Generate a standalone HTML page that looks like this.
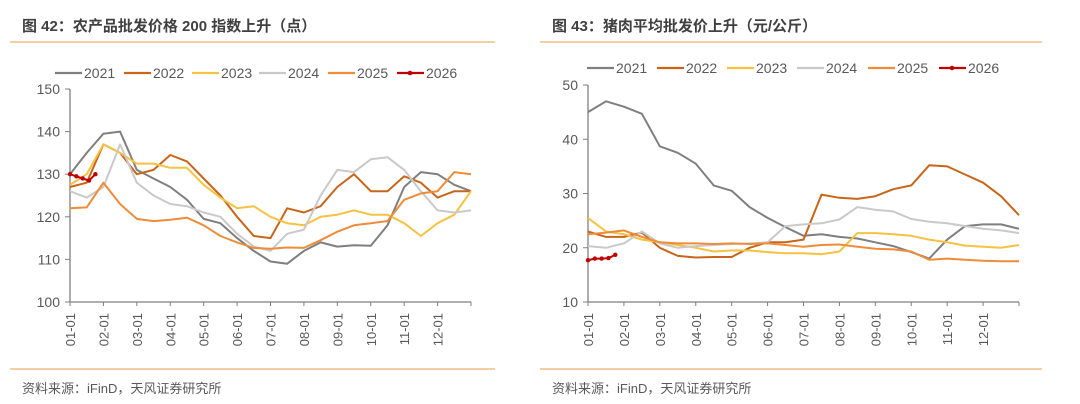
<!DOCTYPE html>
<html><head><meta charset="utf-8">
<style>
body{margin:0;background:#fff;width:1080px;height:404px;overflow:hidden;font-family:"Liberation Sans","Noto Sans CJK SC",sans-serif;}
svg{display:block}
</style></head>
<body>
<svg id="s" width="1080" height="404" xmlns="http://www.w3.org/2000/svg">
<text x="22" y="31" font-size="15" font-weight="bold" fill="#404040" font-family="Liberation Sans, Noto Sans CJK SC, sans-serif">图 42：农产品批发价格 200 指数上升（点）</text>
<line x1="10" y1="42" x2="495" y2="42" stroke="#f0b070" stroke-width="1.2"/>
<text x="552" y="31" font-size="15" font-weight="bold" fill="#404040" font-family="Liberation Sans, Noto Sans CJK SC, sans-serif">图 43：猪肉平均批发价上升（元/公斤）</text>
<line x1="540" y1="42" x2="1042" y2="42" stroke="#f0b070" stroke-width="1.2"/>
<line x1="10" y1="369" x2="495" y2="369" stroke="#f0b070" stroke-width="1.2"/>
<line x1="540" y1="369" x2="1042" y2="369" stroke="#f0b070" stroke-width="1.2"/>
<text x="22" y="393" font-size="13" fill="#595959">资料来源：iFinD，天风证券研究所</text>
<text x="552" y="393" font-size="13" fill="#595959">资料来源：iFinD，天风证券研究所</text>
</svg>
<script>
const years = ["2021","2022","2023","2024","2025","2026"];
const monthLabels = ["01-01","02-01","03-01","04-01","05-01","06-01","07-01","08-01","09-01","10-01","11-01","12-01"];
const leftTicks = [100,110,120,130,140,150];
const rightTicks = [10,20,30,40,50];
const L2021 = [130,135,139.5,140,131,129,127,124,119.5,118.5,115,112,109.5,109,112,114,113,113.3,113.2,118,127,130.5,130,127.5,126];
const L2022 = [127,128,137,135,130,131,134.5,133,129,125,120,115.5,115,122,121,122.5,127,130,126,126,129.5,128,124.5,126,126];
const L2023 = [127.5,130,137,135,132.5,132.5,131.5,131.5,127.5,124.5,122,122.5,120,118.5,118,120,120.5,121.5,120.5,120.5,118.5,115.5,118.5,120.5,126];
const L2024 = [126,124.5,127,137,128,125,123,122.5,121,120,116,113,112,116,117,125,131,130.5,133.5,134,131,126,121.5,121,121.5];
const L2025 = [122,122.2,128,123,119.5,119,119.3,119.8,118,115.5,114,112.7,112.5,112.8,112.7,114.5,116.5,118,118.5,119,124,125.5,126,130.5,130];
const L2026 = [130,129.5,129,128.5,130];
const R2021 = [45,47,46,44.7,38.7,37.5,35.5,31.5,30.5,27.5,25.5,23.8,22.2,22.5,22,21.7,21,20.3,19.2,18,21.5,24,24.3,24.3,23.5];
const R2022 = [23,22,22,22.8,20,18.5,18.2,18.3,18.3,20,21,21,21.5,29.8,29.2,29,29.5,30.8,31.5,35.2,35,33.5,32,29.5,26];
const R2023 = [25.5,23,22.5,21.5,21,20.5,20,19.3,19.5,19.5,19.2,19,19,18.8,19.3,22.7,22.7,22.5,22.2,21.5,21,20.4,20.2,20,20.5];
const R2024 = [20.3,20,20.8,23,20.8,20,20.3,20.5,20.7,20.8,21,24,24.3,24.5,25.2,27.5,27,26.7,25.3,24.8,24.5,24,23.5,23.2,22.7];
const R2025 = [22.5,22.8,23.2,22,21,20.8,20.8,20.7,20.8,20.7,20.8,20.5,20.2,20.5,20.6,20.2,19.8,19.7,19.3,17.8,18,17.8,17.6,17.5,17.5];
const R2026 = [17.7,18,18,18.1,18.7];
const colors = ["#7f7f7f","#c8651b","#f5c242","#c9c9c9","#ee8c3a","#c00000"];

const NS="http://www.w3.org/2000/svg";
const svg=document.getElementById('s');
function mk(tag,attrs,parent){const e=document.createElementNS(NS,tag);for(const k in attrs)e.setAttribute(k,attrs[k]);(parent||svg).appendChild(e);return e;}

function chart(cfg){
  const g=mk('g',{});
  
  
  const xS=t=>cfg.x0+t*(cfg.x1-cfg.x0)/12;
  const yS=v=>cfg.yb-(v-cfg.vmin)*(cfg.yb-cfg.yt)/(cfg.vmax-cfg.vmin);
  // y axis
  const ya=mk('line',{x1:cfg.x0,y1:cfg.yt,x2:cfg.x0,y2:cfg.yb,stroke:'#7f7f7f','stroke-width':1.3},g);
  
  
  cfg.ticks.forEach(v=>{
    const t=mk('line',{x1:cfg.x0-5,y1:yS(v),x2:cfg.x0,y2:yS(v),stroke:'#7f7f7f'},g);
    
    
    const lb=mk('text',{x:cfg.x0-10,y:yS(v)+5,'text-anchor':'end','font-size':14,fill:'#595959'},g);
    lb.textContent=v;
    
    
  });
  const xa=mk('line',{x1:cfg.x0,y1:cfg.yb,x2:cfg.x1,y2:cfg.yb,stroke:'#7f7f7f','stroke-width':1.3},g);
  
  
  for(let i=0;i<=12;i++){
    const t=mk('line',{x1:xS(i),y1:cfg.yb,x2:xS(i),y2:cfg.yb+4,stroke:'#7f7f7f'},g);
    
    
  }
  monthLabels.forEach((m,i)=>{
    const x=xS(i)+5,y=cfg.yb+11;
    const lb=mk('text',{x:x,y:y,'text-anchor':'end','font-size':13,fill:'#595959',transform:`rotate(-90 ${x} ${y})`},g);
    lb.textContent=m;
    
    
  });
  cfg.series.forEach((d,si)=>{
    const step=si===5?0.19:0.5;
    const pts=d.map((v,i)=>xS(i*step).toFixed(1)+','+yS(v).toFixed(1)).join(' ');
    const p=mk('polyline',{points:pts,fill:'none',stroke:colors[si],'stroke-width':2,'stroke-linejoin':'round'},g);
    
    
    if(si===5){d.forEach((v,i)=>{const c=mk('circle',{cx:xS(i*step),cy:yS(v),r:2.2,fill:colors[5]},g);
      
      });}
  });
  // legend
  years.forEach((y,i)=>{
    const lx=cfg.legX[i];
    const lg=mk('g',{},g);
    
    
    mk('line',{x1:lx,y1:cfg.legY,x2:lx+27,y2:cfg.legY,stroke:colors[i],'stroke-width':2.2},lg);
    if(i===5)mk('circle',{cx:lx+13,cy:cfg.legY,r:2.3,fill:colors[5]},lg);
    const t=mk('text',{x:lx+29,y:cfg.legY+5,'font-size':14,fill:'#595959'},lg);
    t.textContent=y;
  });
}
chart({name:'left-chart',x0:70,x1:471,yt:89,yb:302,vmin:100,vmax:150,ticks:leftTicks,
  series:[L2021,L2022,L2023,L2024,L2025,L2026],legX:[55,124,192,259,328,397],legY:73});
chart({name:'right-chart',x0:588,x1:1019,yt:85,yb:302,vmin:10,vmax:50,ticks:rightTicks,
  series:[R2021,R2022,R2023,R2024,R2025,R2026],legX:[587,657,727,797,868,939],legY:68});
</script>
</body></html>
